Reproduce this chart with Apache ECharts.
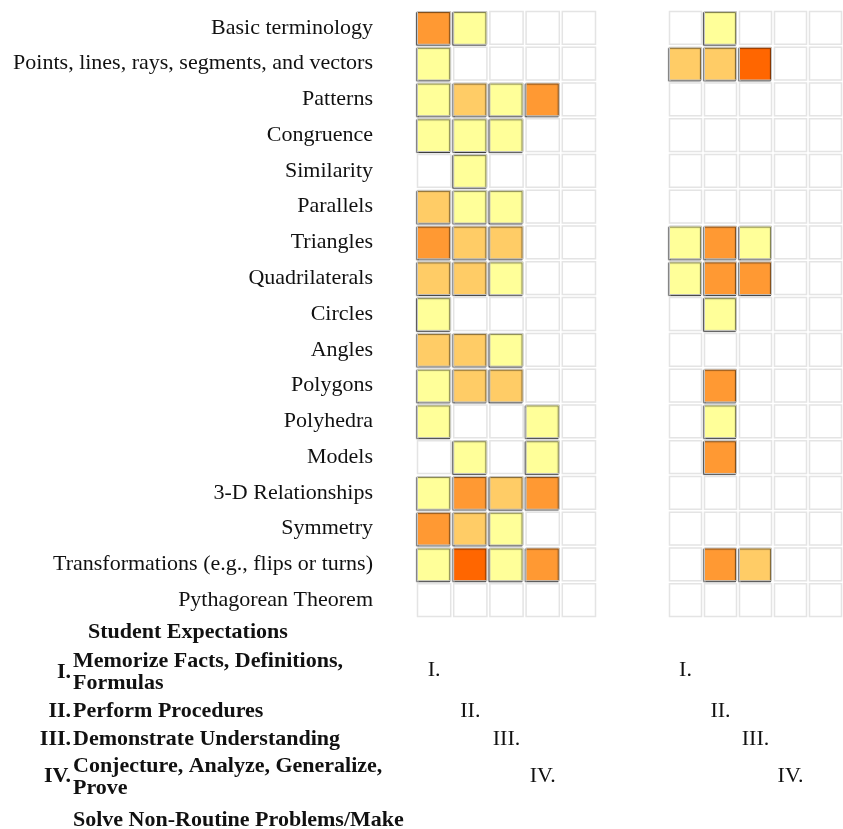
<!DOCTYPE html>
<html>
<head>
<meta charset="utf-8">
<script src="https://cdn.jsdelivr.net/npm/echarts@6/dist/echarts.min.js"></script>
<style>
  html, body { margin: 0; padding: 0; background: #fff; }
  .echarts { width: 843px; height: 829px; }
</style>
</head>
<body>
<div class="echarts"></div>
<script>
// topics, top to bottom
const topics = [
    'Basic terminology',
    'Points, lines, rays, segments, and vectors',
    'Patterns',
    'Congruence',
    'Similarity',
    'Parallels',
    'Triangles',
    'Quadrilaterals',
    'Circles',
    'Angles',
    'Polygons',
    'Polyhedra',
    'Models',
    '3-D Relationships',
    'Symmetry',
    'Transformations (e.g., flips or turns)',
    'Pythagorean Theorem'
];
const columns = ['I.', 'II.', 'III.', 'IV.', 'V.'];
const romanMarks = ['I.', 'II.', 'III.', 'IV.'];

// shade level per cell: 0 empty, 1 yellow, 2 light orange, 3 orange, 4 dark orange
const leftLevels = [
    [3, 1, 0, 0, 0],
    [1, 0, 0, 0, 0],
    [1, 2, 1, 3, 0],
    [1, 1, 1, 0, 0],
    [0, 1, 0, 0, 0],
    [2, 1, 1, 0, 0],
    [3, 2, 2, 0, 0],
    [2, 2, 1, 0, 0],
    [1, 0, 0, 0, 0],
    [2, 2, 1, 0, 0],
    [1, 2, 2, 0, 0],
    [1, 0, 0, 1, 0],
    [0, 1, 0, 1, 0],
    [1, 3, 2, 3, 0],
    [3, 2, 1, 0, 0],
    [1, 4, 1, 3, 0],
    [0, 0, 0, 0, 0]
];
const rightLevels = [
    [0, 1, 0, 0, 0],
    [2, 2, 4, 0, 0],
    [0, 0, 0, 0, 0],
    [0, 0, 0, 0, 0],
    [0, 0, 0, 0, 0],
    [0, 0, 0, 0, 0],
    [1, 3, 1, 0, 0],
    [1, 3, 3, 0, 0],
    [0, 1, 0, 0, 0],
    [0, 0, 0, 0, 0],
    [0, 3, 0, 0, 0],
    [0, 1, 0, 0, 0],
    [0, 3, 0, 0, 0],
    [0, 0, 0, 0, 0],
    [0, 0, 0, 0, 0],
    [0, 3, 2, 0, 0],
    [0, 0, 0, 0, 0]
];
const shade = ['#ffffff', '#ffff99', '#ffcc66', '#ff9933', '#ff6600'];

const serif = '"Liberation Serif", "DejaVu Serif", serif';

function toCells(rows) {
    let out = [];
    rows.forEach(function (r, y) {
        r.forEach(function (v, x) { out.push([x, y, v]); });
    });
    return out;
}

function drawCell(params, api) {
    let c = api.coord([api.value(0), api.value(1)]);
    let s = api.size([1, 1]);
    let v = api.value(2);
    let pad = 1.5;
    return {
        type: 'rect',
        shape: {
            x: c[0] - s[0] / 2 + pad,
            y: c[1] - s[1] / 2 + pad,
            width: s[0] - 2 * pad,
            height: s[1] - 2 * pad
        },
        style: v ? {
            fill: shade[v],
            stroke: '#c4c4c4',
            lineWidth: 1,
            shadowColor: 'rgba(0,0,0,0.6)',
            shadowBlur: 1,
            shadowOffsetX: -1,
            shadowOffsetY: 1
        } : {
            fill: '#ffffff',
            stroke: '#e4e4e4',
            lineWidth: 1.5
        }
    };
}

function xAxisFor(idx) {
    return {
        type: 'category', gridIndex: idx, data: columns,
        axisLine: { show: false }, axisTick: { show: false },
        axisLabel: { show: false }, splitLine: { show: false }
    };
}

window.addEventListener('load', function () {
    let myChart = echarts.init(document.querySelector('.echarts'));

    let myChartOption = {
        animation: false,
        grid: [
            { left: 416, top: 10, width: 181, height: 608 },
            { left: 668, top: 10, width: 181, height: 608 }
        ],
        xAxis: [xAxisFor(0), xAxisFor(1)],
        yAxis: [{
            type: 'category', gridIndex: 0, data: topics, inverse: true,
            axisLine: { show: false }, axisTick: { show: false },
            splitLine: { show: false },
            axisLabel: {
                margin: 43,
                color: '#111',
                fontSize: 22,
                fontFamily: serif
            }
        }, {
            type: 'category', gridIndex: 1, data: topics, inverse: true,
            axisLine: { show: false }, axisTick: { show: false },
            axisLabel: { show: false }, splitLine: { show: false }
        }],
        series: [{
            type: 'custom', xAxisIndex: 0, yAxisIndex: 0,
            renderItem: drawCell, data: toCells(leftLevels)
        }, {
            type: 'custom', xAxisIndex: 1, yAxisIndex: 1,
            renderItem: drawCell, data: toCells(rightLevels)
        }]
    };
    myChart.setOption(myChartOption);

    // legend text at the bottom
    const bold = { fontFamily: serif, fontSize: 22, fontWeight: 'bold', fill: '#111' };
    const boldR = Object.assign({ textAlign: 'right' }, bold);
    function txt(x, y, text, st) {
        return {
            type: 'text', x: x, y: y,
            style: Object.assign({ text: text, textVerticalAlign: 'middle' }, st)
        };
    }
    let g = [
        txt(88, 632, 'Student Expectations', bold),
        txt(71, 672, 'I.', boldR),
        txt(73, 661, 'Memorize Facts, Definitions,', bold),
        txt(73, 683, 'Formulas', bold),
        txt(71, 711, 'II.', boldR),
        txt(73, 711, 'Perform Procedures', bold),
        txt(71, 739, 'III.', boldR),
        txt(73, 739, 'Demonstrate Understanding', bold),
        txt(71, 776, 'IV.', boldR),
        txt(73, 766, 'Conjecture, Analyze, Generalize,', bold),
        txt(73, 788, 'Prove', bold),
        txt(73, 820, 'Solve Non-Routine Problems/Make', bold)
    ];
    // roman numerals under each grid, staggered
    const markY = [670, 711, 739, 776];
    const plain = { fontFamily: serif, fontSize: 22, fill: '#111', textAlign: 'center' };
    [0, 1].forEach(function (gi) {
        romanMarks.forEach(function (m, i) {
            let p = myChart.convertToPixel({ xAxisIndex: gi, yAxisIndex: gi }, [i, 0]);
            g.push(txt(p[0], markY[i], m, plain));
        });
    });
    myChart.setOption({ graphic: g });
});
</script>
</body>
</html>
